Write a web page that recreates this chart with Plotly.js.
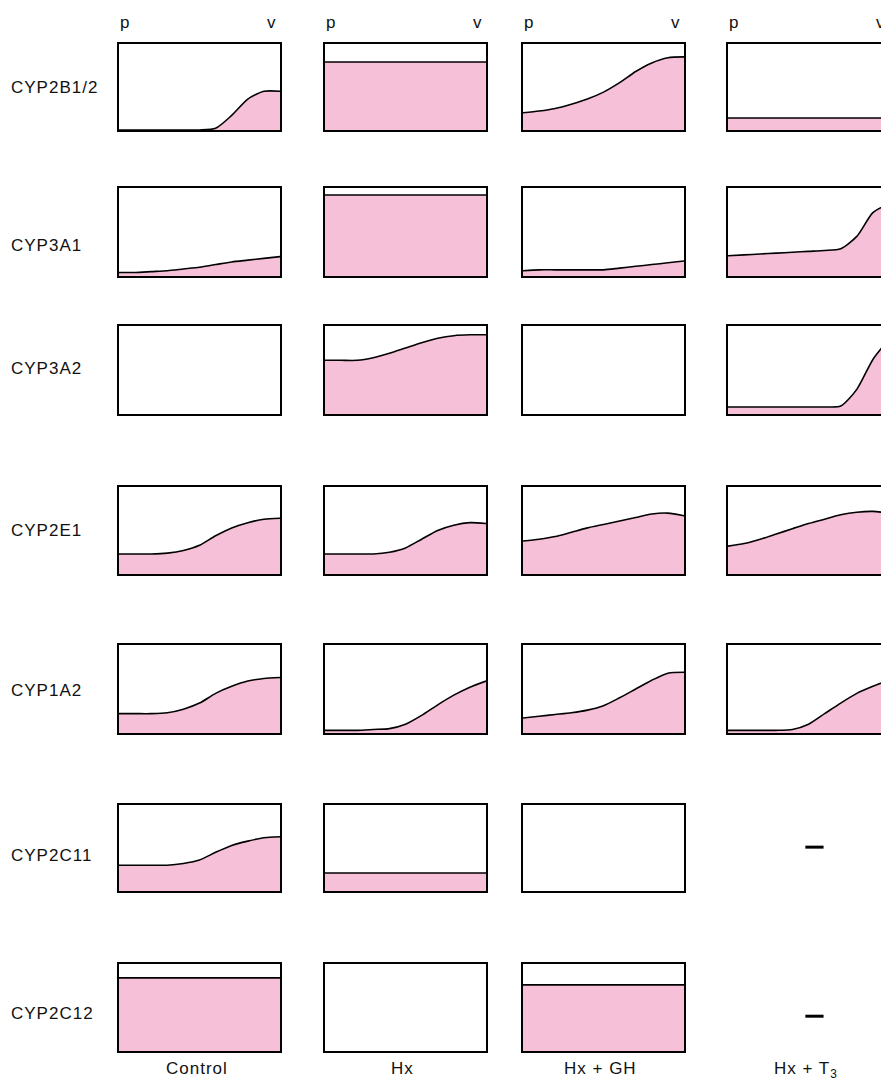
<!DOCTYPE html>
<html>
<head>
<meta charset="utf-8">
<script src="https://cdn.plot.ly/plotly-3.0.1.min.js"></script>
<style>
html,body{margin:0;padding:0;overflow:hidden;background:#fff;}
#chart{width:895px;height:1080px;}
.annotation-text{letter-spacing:1px;}
</style>
</head>
<body>
<div id="chart"></div>
<script>
// ---- categories ----
const genes = ["CYP2B1/2", "CYP3A1", "CYP3A2", "CYP2E1", "CYP1A2", "CYP2C11", "CYP2C12"];
const treatments = ["Control", "Hx", "Hx + GH", "Hx + T<sub>3</sub>"];
const endLabels = ["p", "v"];

// relative position along the lobule, periportal (p) -> perivenous (v)
const xGrid = [0, 0.1, 0.2, 0.3, 0.4, 0.5, 0.6, 0.7, 0.8, 0.9, 1.0];

// ---- series values (relative expression, 0..1 of box height); null = no signal, "nd" = not determined ----
const cyp2b12_control = [0, 0, 0, 0, 0, 0, 0.02, 0.17, 0.36, 0.45, 0.45];
const cyp2b12_hx      = [0.79, 0.79, 0.79, 0.79, 0.79, 0.79, 0.79, 0.79, 0.79, 0.79, 0.79];
const cyp2b12_hxgh    = [0.20, 0.22, 0.25, 0.30, 0.36, 0.44, 0.55, 0.68, 0.78, 0.84, 0.85];
const cyp2b12_hxt3    = [0.14, 0.14, 0.14, 0.14, 0.14, 0.14, 0.14, 0.14, 0.14, 0.14, 0.14];

const cyp3a1_control  = [0.04, 0.04, 0.05, 0.06, 0.08, 0.10, 0.13, 0.16, 0.18, 0.20, 0.22];
const cyp3a1_hx       = [0.92, 0.92, 0.92, 0.92, 0.92, 0.92, 0.92, 0.92, 0.92, 0.92, 0.92];
const cyp3a1_hxgh     = [0.06, 0.07, 0.07, 0.07, 0.07, 0.07, 0.09, 0.11, 0.13, 0.15, 0.17];
const cyp3a1_hxt3     = [0.23, 0.24, 0.25, 0.26, 0.27, 0.28, 0.29, 0.31, 0.45, 0.72, 0.82];

const cyp3a2_control  = null;
const cyp3a2_hx       = [0.61, 0.61, 0.61, 0.64, 0.69, 0.75, 0.81, 0.86, 0.89, 0.90, 0.90];
const cyp3a2_hxgh     = null;
const cyp3a2_hxt3     = [0.08, 0.08, 0.08, 0.08, 0.08, 0.08, 0.08, 0.09, 0.28, 0.62, 0.85];

const cyp2e1_control  = [0.23, 0.23, 0.23, 0.24, 0.27, 0.33, 0.44, 0.53, 0.59, 0.63, 0.64];
const cyp2e1_hx       = [0.23, 0.23, 0.23, 0.23, 0.25, 0.30, 0.40, 0.50, 0.56, 0.59, 0.58];
const cyp2e1_hxgh     = [0.38, 0.40, 0.43, 0.48, 0.53, 0.57, 0.61, 0.65, 0.69, 0.70, 0.67];
const cyp2e1_hxt3     = [0.32, 0.35, 0.40, 0.46, 0.52, 0.58, 0.63, 0.68, 0.71, 0.72, 0.70];

const cyp1a2_control  = [0.22, 0.22, 0.22, 0.23, 0.27, 0.34, 0.45, 0.53, 0.59, 0.62, 0.63];
const cyp1a2_hx       = [0.03, 0.03, 0.03, 0.04, 0.05, 0.10, 0.20, 0.32, 0.43, 0.52, 0.59];
const cyp1a2_hxgh     = [0.17, 0.19, 0.21, 0.23, 0.26, 0.31, 0.40, 0.50, 0.60, 0.68, 0.69];
const cyp1a2_hxt3     = [0.03, 0.03, 0.03, 0.03, 0.04, 0.10, 0.22, 0.34, 0.45, 0.53, 0.60];

const cyp2c11_control = [0.30, 0.30, 0.30, 0.30, 0.32, 0.36, 0.45, 0.53, 0.58, 0.62, 0.63];
const cyp2c11_hx      = [0.21, 0.21, 0.21, 0.21, 0.21, 0.21, 0.21, 0.21, 0.21, 0.21, 0.21];
const cyp2c11_hxgh    = null;
const cyp2c11_hxt3    = "nd";

const cyp2c12_control = [0.84, 0.84, 0.84, 0.84, 0.84, 0.84, 0.84, 0.84, 0.84, 0.84, 0.84];
const cyp2c12_hx      = null;
const cyp2c12_hxgh    = [0.76, 0.76, 0.76, 0.76, 0.76, 0.76, 0.76, 0.76, 0.76, 0.76, 0.76];
const cyp2c12_hxt3    = "nd";

const panels = [
  [cyp2b12_control, cyp2b12_hx, cyp2b12_hxgh, cyp2b12_hxt3],
  [cyp3a1_control, cyp3a1_hx, cyp3a1_hxgh, cyp3a1_hxt3],
  [cyp3a2_control, cyp3a2_hx, cyp3a2_hxgh, cyp3a2_hxt3],
  [cyp2e1_control, cyp2e1_hx, cyp2e1_hxgh, cyp2e1_hxt3],
  [cyp1a2_control, cyp1a2_hx, cyp1a2_hxgh, cyp1a2_hxt3],
  [cyp2c11_control, cyp2c11_hx, cyp2c11_hxgh, cyp2c11_hxt3],
  [cyp2c12_control, cyp2c12_hx, cyp2c12_hxgh, cyp2c12_hxt3]
];
// position of the "not determined" dash inside its cell
const ndX = [0.537];
const ndY = [0.5];

// ---- layout geometry (pixels) ----
const W = 895, H = 1080;
const colLeft = [119, 325, 523, 728];
const panelW = 161;
const rowTop = [44, 188, 326, 487, 645, 805, 964];
const rowBottom = [130, 276, 414, 574, 733, 891, 1051];
const rowLabelY = [87, 245, 368, 530, 690, 855, 1013];
const ndOffsetY = [0, 0, 0, 0, 0, 0.01, -0.10];

const FONT = "Liberation Sans, Arial, Helvetica, sans-serif";
const PINK = "#f6c0d8";
const FS = 17;

const traces = [];
const layout = {
  width: W, height: H,
  margin: {l: 0, r: 0, t: 0, b: 0},
  paper_bgcolor: "#fff", plot_bgcolor: "#fff",
  showlegend: false,
  font: {family: FONT, size: FS, color: "#111"},
  annotations: []
};

for (let r = 0; r < genes.length; r++) {
  for (let c = 0; c < treatments.length; c++) {
    const k = r * 4 + c + 1;
    const sx = k === 1 ? "" : String(k);
    const vals = panels[r][c];
    const nd = vals === "nd";
    const xd = [colLeft[c] / W, (colLeft[c] + panelW) / W];
    const yd = [1 - rowBottom[r] / H, 1 - rowTop[r] / H];
    const axBase = {
      range: [0, 1], showline: !nd, mirror: true, linecolor: "#000", linewidth: 2,
      showgrid: false, zeroline: false, showticklabels: false, ticks: "",
      fixedrange: true, visible: !nd
    };
    layout["xaxis" + sx] = Object.assign({}, axBase, {domain: xd, anchor: "y" + sx});
    layout["yaxis" + sx] = Object.assign({}, axBase, {domain: yd, anchor: "x" + sx});
    if (nd) {
      traces.push({
        type: "scatter", mode: "markers", x: ndX, y: ndY.map(v => v + ndOffsetY[r]),
        xaxis: "x" + sx, yaxis: "y" + sx, hoverinfo: "skip",
        marker: {symbol: "line-ew", size: 13, color: "#000", line: {width: 3, color: "#000"}}
      });
    } else if (vals) {
      traces.push({
        type: "scatter", mode: "lines", x: xGrid, y: vals,
        xaxis: "x" + sx, yaxis: "y" + sx, hoverinfo: "skip",
        fill: "tozeroy", fillcolor: PINK,
        line: {color: "#000", width: 1.6, shape: "spline", smoothing: 0.7}
      });
    } else {
      // empty box: an invisible trace so the axes (box frame) are drawn
      traces.push({
        type: "scatter", mode: "lines", x: [0, 1], y: [0, 0],
        xaxis: "x" + sx, yaxis: "y" + sx, hoverinfo: "skip",
        line: {color: "rgba(0,0,0,0)", width: 0}
      });
    }
  }
  layout.annotations.push({
    text: genes[r], xref: "paper", yref: "paper",
    x: 9 / W, y: 1 - rowLabelY[r] / H, xanchor: "left", yanchor: "middle",
    showarrow: false, font: {family: FONT, size: FS, color: "#111"}
  });
}

// p / v labels above the first row, treatment labels below the last row
for (let c = 0; c < treatments.length; c++) {
  layout.annotations.push({
    text: endLabels[0], xref: "paper", yref: "paper",
    x: (colLeft[c] - 1) / W, y: 1 - 22 / H, xanchor: "left", yanchor: "middle",
    showarrow: false, font: {family: FONT, size: FS, color: "#111"}
  });
  layout.annotations.push({
    text: endLabels[1], xref: "paper", yref: "paper",
    x: (colLeft[c] + panelW - 1) / W, y: 1 - 22 / H, xanchor: "right", yanchor: "middle",
    showarrow: false, font: {family: FONT, size: FS, color: "#111"}
  });
  layout.annotations.push({
    text: treatments[c], xref: "paper", yref: "paper",
    x: (colLeft[c] + panelW / 2 - 3) / W, y: 1 - 1057 / H, xanchor: "center", yanchor: "top",
    showarrow: false, font: {family: FONT, size: FS, color: "#111"}
  });
}

Plotly.newPlot("chart", traces, layout, {displayModeBar: false, staticPlot: true});
</script>
</body>
</html>
